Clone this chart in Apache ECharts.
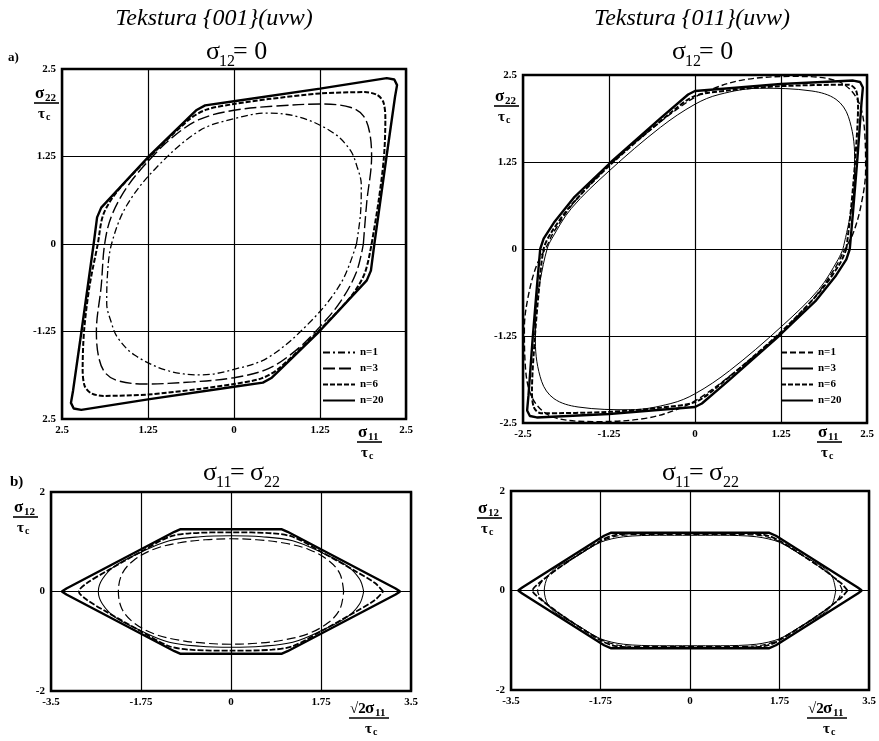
<!DOCTYPE html>
<html>
<head>
<meta charset="utf-8">
<script src="https://cdn.jsdelivr.net/npm/echarts@6/dist/echarts.min.js"></script>
<style>
  html, body { margin: 0; padding: 0; background: #fff; }
  #main { width: 879px; height: 741px; }
</style>
</head>
<body>
<div id="main"></div>
<script>
// tick labels (as printed, from min to max)
var tlXLabels = ['2.5', '1.25', '0', '1.25', '2.5'];
var tlYLabels = ['2.5', '-1.25', '0', '1.25', '2.5'];
var trXLabels = ['-2.5', '-1.25', '0', '1.25', '2.5'];
var trYLabels = ['-2.5', '-1.25', '0', '1.25', '2.5'];
var bXLabels = ['-3.5', '-1.75', '0', '1.75', '3.5'];
var bYLabels = ['-2', '0', '2'];
var legendNames = ['n=1', 'n=3', 'n=6', 'n=20'];

// a) Tekstura {001}, sigma12 = 0
var tl_n1 = [[1.78,0],[1.84,0.45],[1.85,0.85],[1.79,1.1],[1.69,1.34],[1.44,1.59],[0.96,1.81],[0.47,1.87],[0,1.79],[-0.5,1.62],[-1.12,1.1],[-1.56,0.55],[-1.78,0],[-1.84,-0.45],[-1.85,-0.85],[-1.79,-1.1],[-1.69,-1.34],[-1.44,-1.59],[-0.96,-1.81],[-0.47,-1.87],[0,-1.79],[0.5,-1.62],[1.12,-1.1],[1.56,-0.55],[1.78,0]];
var tl_n3 = [[1.88,0],[1.93,0.6],[2.0,1.25],[1.97,1.6],[1.88,1.83],[1.7,1.95],[1.3,2.0],[0.6,1.97],[0,1.91],[-0.5,1.78],[-0.9,1.52],[-1.25,1.18],[-1.55,0.82],[-1.78,0.4],[-1.88,0],[-1.93,-0.6],[-2.0,-1.25],[-1.97,-1.6],[-1.88,-1.83],[-1.7,-1.95],[-1.3,-2.0],[-0.6,-1.97],[0,-1.91],[0.5,-1.78],[0.9,-1.52],[1.25,-1.18],[1.55,-0.82],[1.78,-0.4],[1.88,0]];
var tl_n6 = [[2.0,0],[2.1,0.6],[2.18,1.25],[2.2,1.8],[2.17,2.03],[2.08,2.13],[1.9,2.17],[1.25,2.15],[0.5,2.07],[0,2.0],[-0.4,1.92],[-0.65,1.78],[-1.25,1.22],[-1.7,0.75],[-1.9,0.42],[-1.98,0],[-2.1,-0.6],[-2.18,-1.25],[-2.2,-1.8],[-2.17,-2.03],[-2.08,-2.13],[-1.9,-2.17],[-1.25,-2.15],[-0.5,-2.07],[0,-2.0],[0.4,-1.92],[0.65,-1.78],[1.25,-1.22],[1.7,-0.75],[1.9,-0.42],[2.0,0]];
var tl_n20 = [[2.04,0],[2.21,1.2],[2.34,2.1],[2.37,2.27],[2.33,2.35],[2.22,2.37],[1.25,2.22],[0,2.04],[-0.42,1.98],[-0.55,1.91],[-1.25,1.24],[-1.93,0.52],[-1.99,0.38],[-2.04,0],[-2.21,-1.2],[-2.34,-2.1],[-2.37,-2.27],[-2.33,-2.35],[-2.22,-2.37],[-1.25,-2.22],[0,-2.04],[0.42,-1.98],[0.55,-1.91],[1.25,-1.24],[1.93,-0.52],[1.99,-0.38],[2.04,0]];

// a) Tekstura {011}, sigma12 = 0
var tr_n1 = [[2.15,-0.05],[2.3,0.23],[2.42,0.66],[2.48,1.14],[2.47,1.62],[2.36,2.15],[2.05,2.42],[1.42,2.48],[0.7,2.43],[0.2,2.28],[-0.1,2.12],[-0.6,1.75],[-1.25,1.2],[-1.75,0.68],[-2.05,0.25],[-2.15,0.05],[-2.3,-0.23],[-2.42,-0.66],[-2.48,-1.14],[-2.47,-1.62],[-2.36,-2.15],[-2.05,-2.42],[-1.42,-2.48],[-0.7,-2.43],[-0.2,-2.28],[0.1,-2.12],[0.6,-1.75],[1.25,-1.2],[1.75,-0.68],[2.05,-0.25],[2.15,-0.05]];
var tr_n3 = [[2.15,0],[2.25,0.45],[2.31,0.85],[2.32,1.33],[2.23,1.9],[2.05,2.15],[1.7,2.27],[0.94,2.31],[0.35,2.22],[0,2.08],[-0.5,1.75],[-1.25,1.12],[-1.8,0.58],[-2.08,0.15],[-2.15,0],[-2.25,-0.45],[-2.31,-0.85],[-2.32,-1.33],[-2.23,-1.9],[-2.05,-2.15],[-1.7,-2.27],[-0.94,-2.31],[-0.35,-2.22],[0,-2.08],[0.5,-1.75],[1.25,-1.12],[1.8,-0.58],[2.08,-0.15],[2.15,0]];
var tr_n6 = [[2.2,0],[2.27,0.6],[2.33,1.3],[2.37,2.05],[2.34,2.28],[2.24,2.36],[1.25,2.34],[0.5,2.28],[0,2.2],[-0.3,2.0],[-1.22,1.22],[-1.8,0.63],[-2.1,0.22],[-2.2,0],[-2.27,-0.6],[-2.33,-1.3],[-2.37,-2.05],[-2.34,-2.28],[-2.24,-2.36],[-1.25,-2.34],[-0.5,-2.28],[0,-2.2],[0.3,-2.0],[1.22,-1.22],[1.8,-0.63],[2.1,-0.22],[2.2,0]];
var tr_n20 = [[2.25,0],[2.3,0.57],[2.36,1.29],[2.42,2.1],[2.44,2.32],[2.4,2.4],[2.3,2.42],[1.25,2.37],[0.5,2.31],[0,2.27],[-0.1,2.22],[-0.5,1.88],[-1.22,1.25],[-1.75,0.75],[-2.05,0.38],[-2.2,0.15],[-2.25,0],[-2.3,-0.57],[-2.36,-1.29],[-2.42,-2.1],[-2.44,-2.32],[-2.4,-2.4],[-2.3,-2.42],[-1.25,-2.37],[-0.5,-2.31],[0,-2.27],[0.1,-2.22],[0.5,-1.88],[1.22,-1.25],[1.75,-0.75],[2.05,-0.38],[2.2,-0.15],[2.25,0]];

// b) sigma11 = sigma22, Tekstura {001}
var bl_n1 = [[2.19,0],[2.12,0.35],[1.9,0.62],[1.5,0.85],[1.0,0.98],[0.5,1.04],[0,1.06],[-0.5,1.04],[-1.0,0.98],[-1.5,0.85],[-1.9,0.62],[-2.12,0.35],[-2.19,0],[-2.12,-0.35],[-1.9,-0.62],[-1.5,-0.85],[-1.0,-0.98],[-0.5,-1.04],[0,-1.06],[0.5,-1.04],[1.0,-0.98],[1.5,-0.85],[1.9,-0.62],[2.12,-0.35],[2.19,0]];
var bl_n3 = [[2.58,0],[2.5,0.25],[2.25,0.52],[1.75,0.79],[1.2,1.02],[0.6,1.1],[0,1.12],[-0.6,1.1],[-1.2,1.02],[-1.75,0.79],[-2.25,0.52],[-2.5,0.25],[-2.58,0],[-2.5,-0.25],[-2.25,-0.52],[-1.75,-0.79],[-1.2,-1.02],[-0.6,-1.1],[0,-1.12],[0.6,-1.1],[1.2,-1.02],[1.75,-0.79],[2.25,-0.52],[2.5,-0.25],[2.58,0]];
var bl_n6 = [[2.96,0],[2.8,0.17],[2.4,0.42],[1.75,0.8],[1.2,1.1],[0.8,1.17],[0,1.19],[-0.8,1.17],[-1.2,1.1],[-1.75,0.8],[-2.4,0.42],[-2.8,0.17],[-2.96,0],[-2.8,-0.17],[-2.4,-0.42],[-1.75,-0.8],[-1.2,-1.1],[-0.8,-1.17],[0,-1.19],[0.8,-1.17],[1.2,-1.1],[1.75,-0.8],[2.4,-0.42],[2.8,-0.17],[2.96,0]];
var bl_n20 = [[3.29,0],[3.2,0.06],[1.1,1.2],[0.99,1.25],[-0.99,1.25],[-1.1,1.2],[-3.2,0.06],[-3.29,0],[-3.2,-0.06],[-1.1,-1.2],[-0.99,-1.25],[0.99,-1.25],[1.1,-1.2],[3.2,-0.06],[3.29,0]];

// b) sigma11 = sigma22, Tekstura {011}
var br_n1 = [[2.98,0],[2.88,0.2],[2.5,0.5],[1.75,0.98],[1.4,1.1],[0.7,1.13],[0,1.13],[-0.7,1.13],[-1.4,1.1],[-1.75,0.98],[-2.5,0.5],[-2.88,0.2],[-2.98,0],[-2.88,-0.2],[-2.5,-0.5],[-1.75,-0.98],[-1.4,-1.1],[-0.7,-1.13],[0,-1.13],[0.7,-1.13],[1.4,-1.1],[1.75,-0.98],[2.5,-0.5],[2.88,-0.2],[2.98,0]];
var br_n3 = [[2.85,0],[2.78,0.28],[2.6,0.47],[2.2,0.7],[1.75,0.97],[1.3,1.08],[0.6,1.11],[0,1.11],[-0.6,1.11],[-1.3,1.08],[-1.75,0.97],[-2.2,0.7],[-2.6,0.47],[-2.78,0.28],[-2.85,0],[-2.78,-0.28],[-2.6,-0.47],[-2.2,-0.7],[-1.75,-0.97],[-1.3,-1.08],[-0.6,-1.11],[0,-1.11],[0.6,-1.11],[1.3,-1.08],[1.75,-0.97],[2.2,-0.7],[2.6,-0.47],[2.78,-0.28],[2.85,0]];
var br_n6 = [[3.08,0],[2.95,0.15],[2.5,0.5],[1.75,1.0],[1.45,1.12],[0.8,1.15],[0,1.15],[-0.8,1.15],[-1.45,1.12],[-1.75,1.0],[-2.5,0.5],[-2.95,0.15],[-3.08,0],[-2.95,-0.15],[-2.5,-0.5],[-1.75,-1.0],[-1.45,-1.12],[-0.8,-1.15],[0,-1.15],[0.8,-1.15],[1.45,-1.12],[1.75,-1.0],[2.5,-0.5],[2.95,-0.15],[3.08,0]];
var br_n20 = [[3.36,0],[3.28,0.06],[1.68,1.1],[1.55,1.16],[-1.55,1.16],[-1.68,1.1],[-3.28,0.06],[-3.36,0],[-3.28,-0.06],[-1.68,-1.1],[-1.55,-1.16],[1.55,-1.16],[1.68,-1.1],[3.28,-0.06],[3.36,0]];

var FONT = '"Liberation Serif", "DejaVu Serif", serif';
var myChart = echarts.init(document.getElementById('main'));

function pick(labels, min, step) {
    return function (v) {
        var i = Math.round((v - min) / step);
        return labels[i] !== undefined ? labels[i] : '';
    };
}
function xAx(grid, min, max, step, labels) {
    return {
        gridIndex: grid, type: 'value', min: min, max: max, interval: step,
        axisLine: { show: false }, axisTick: { show: false },
        splitLine: { show: true, lineStyle: { color: '#000', width: 1.2 } },
        axisLabel: { formatter: pick(labels, min, step), showMinLabel: true, showMaxLabel: true,
            margin: 6, color: '#000', fontFamily: FONT, fontWeight: 'bold', fontSize: 11 }
    };
}
function yAx(grid, min, max, step, labels) {
    var a = xAx(grid, min, max, step, labels);
    a.axisLabel.margin = 6;
    return a;
}
function line(name, xi, data, width, type, smooth) {
    return {
        name: name, type: 'line', xAxisIndex: xi, yAxisIndex: xi, data: data,
        symbol: 'none', smooth: smooth, animation: false, silent: true, color: '#000',
        itemStyle: { color: '#000' },
        lineStyle: { color: '#000', width: width, type: type }
    };
}
// text placed by its baseline
function txt(x, base, s, size, style) {
    return {
        type: 'text', x: x, y: base - 0.84 * size, silent: true,
        style: { text: s, fontFamily: FONT, fontSize: size, fontWeight: 'bold',
            fontStyle: style || 'normal', fill: '#000', verticalAlign: 'top' }
    };
}
function hline(x1, x2, y) {
    return { type: 'line', silent: true, shape: { x1: x1, y1: y, x2: x2, y2: y },
        style: { stroke: '#000', lineWidth: 1.6 } };
}
// sigma_xx over tau_c
function frac(x, base, sub, pre) {
    var out = [], sx = x;
    if (pre) { out.push(txt(x, base, '√2', 15)); sx = x + 15; }
    out.push(txt(sx, base, 'σ', 17), txt(sx + 10, base + 3, sub, 11));
    out.push(hline(x - 1, sx + 24, base + 4));
    var tx = pre ? sx : x + 3;
    out.push(txt(tx, base + 20, 'τ', 15), txt(tx + 8, base + 22, 'c', 10));
    return out;
}
function head(x, base, a, b) {
    var out = [txt(x, base, 'σ', 26, 'normal'), txt(x + 13, base + 6, a, 16)];
    if (b === null) {
        out.push(txt(x + 27, base, '= 0', 26));
    } else {
        out.push(txt(x + 27, base, '=', 26), txt(x + 47, base, 'σ', 26), txt(x + 61, base + 6, b, 16));
    }
    out.forEach(function (e) { e.style.fontWeight = 'normal'; });
    return out;
}

var g = [];
var t1 = txt(214, 27, 'Tekstura {001}(uvw)', 24, 'italic');
t1.style.align = 'center'; t1.style.fontWeight = 'normal';
var t2 = txt(692, 27, 'Tekstura {011}(uvw)', 24, 'italic');
t2.style.align = 'center'; t2.style.fontWeight = 'normal';
g.push(t1, t2);
g = g.concat(head(206, 61, '12', null), head(672, 61, '12', null));
g = g.concat(head(203, 482, '11', '22'), head(662, 482, '11', '22'));
g.push(txt(8, 62, 'a)', 13), txt(10, 487, 'b)', 15));
g = g.concat(frac(35, 99, '22'), frac(358, 438, '11'));
g = g.concat(frac(495, 102, '22'), frac(818, 438, '11'));
g = g.concat(frac(14, 513, '12'), frac(350, 714, '11', true));
g = g.concat(frac(478, 514, '12'), frac(808, 714, '11', true));

var gridStyle = { show: true, borderColor: '#000', borderWidth: 2.5, backgroundColor: 'rgba(0,0,0,0)' };
function legendFor(tag, left) {
    return {
        data: legendNames.map(function (n) { return n + '|' + tag; }),
        left: left, top: 347, orient: 'vertical', padding: 0,
        itemWidth: 32, itemHeight: 12, itemGap: 5, selectedMode: false,
        itemStyle: { opacity: 0 },
        formatter: function (n) { return n.split('|')[0]; },
        textStyle: { fontFamily: FONT, fontWeight: 'bold', fontSize: 11, color: '#000' }
    };
}

var option = {
    backgroundColor: '#fff',
    animation: false,
    color: ['#000'],
    grid: [
        Object.assign({ left: 62, top: 69, width: 344, height: 350 }, gridStyle),
        Object.assign({ left: 523, top: 75, width: 344, height: 348 }, gridStyle),
        Object.assign({ left: 51, top: 492, width: 360, height: 199 }, gridStyle),
        Object.assign({ left: 511, top: 491, width: 358, height: 199 }, gridStyle)
    ],
    xAxis: [
        xAx(0, -2.5, 2.5, 1.25, tlXLabels),
        xAx(1, -2.5, 2.5, 1.25, trXLabels),
        xAx(2, -3.5, 3.5, 1.75, bXLabels),
        xAx(3, -3.5, 3.5, 1.75, bXLabels)
    ],
    yAxis: [
        yAx(0, -2.5, 2.5, 1.25, tlYLabels),
        yAx(1, -2.5, 2.5, 1.25, trYLabels),
        yAx(2, -2, 2, 2, bYLabels),
        yAx(3, -2, 2, 2, bYLabels)
    ],
    legend: [legendFor('tl', 322), legendFor('tr', 780)],
    series: [
        line('n=1|tl', 0, tl_n1, 1.3, [7, 3, 2, 3], 0.35),
        line('n=3|tl', 0, tl_n3, 1.4, [12, 4], 0.35),
        line('n=6|tl', 0, tl_n6, 2, [5, 2], 0.3),
        line('n=20|tl', 0, tl_n20, 2.4, 'solid', false),
        line('n=1|tr', 1, tr_n1, 1.4, [6, 3], 0.35),
        line('n=3|tr', 1, tr_n3, 1, 'solid', 0.35),
        line('n=6|tr', 1, tr_n6, 2, [5, 2], 0.3),
        line('n=20|tr', 1, tr_n20, 2.4, 'solid', false),
        line('n=1|bl', 2, bl_n1, 1.2, [9, 4], 0.35),
        line('n=3|bl', 2, bl_n3, 1.1, 'solid', 0.35),
        line('n=6|bl', 2, bl_n6, 1.8, [6, 2], 0.3),
        line('n=20|bl', 2, bl_n20, 2.4, 'solid', false),
        line('n=1|br', 3, br_n1, 1.2, [6, 3], 0.3),
        line('n=3|br', 3, br_n3, 1, 'solid', 0.3),
        line('n=6|br', 3, br_n6, 1.8, [6, 2], 0.3),
        line('n=20|br', 3, br_n20, 2.4, 'solid', false)
    ],
    graphic: g
};
myChart.setOption(option);
</script>
</body>
</html>
